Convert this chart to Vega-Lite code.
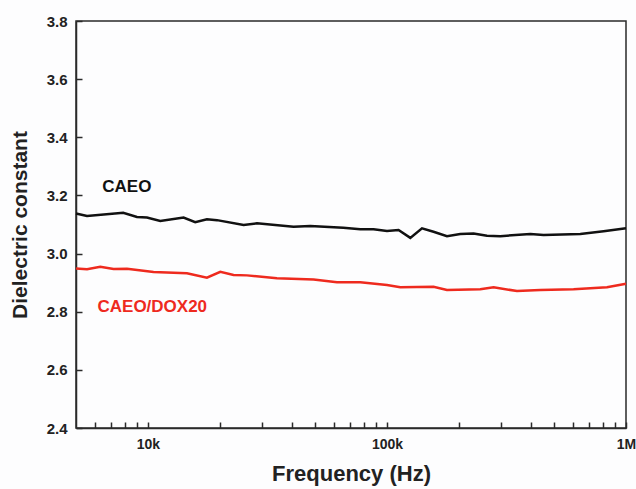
{
  "$schema": "https://vega.github.io/schema/vega-lite/v6.json",
  "width": 550,
  "height": 407,
  "autosize": "none",
  "padding": {"left": 76, "top": 21, "right": 10, "bottom": 61},
  "background": "#fdfdfe",
  "config": {
    "view": {"stroke": "#2a2a2a", "strokeWidth": 1.5},
    "font": "Liberation Sans",
    "axis": {"grid": false}
  },
  "datasets": {
    "curves": [
      {"series": "CAEO", "freq": 5000, "eps": 3.138},
      {"series": "CAEO", "freq": 5560, "eps": 3.129},
      {"series": "CAEO", "freq": 7880, "eps": 3.140},
      {"series": "CAEO", "freq": 8995, "eps": 3.126},
      {"series": "CAEO", "freq": 9900, "eps": 3.124},
      {"series": "CAEO", "freq": 11260, "eps": 3.112},
      {"series": "CAEO", "freq": 14090, "eps": 3.124},
      {"series": "CAEO", "freq": 15770, "eps": 3.108},
      {"series": "CAEO", "freq": 17650, "eps": 3.118},
      {"series": "CAEO", "freq": 19450, "eps": 3.115},
      {"series": "CAEO", "freq": 25130, "eps": 3.098},
      {"series": "CAEO", "freq": 28580, "eps": 3.104},
      {"series": "CAEO", "freq": 40650, "eps": 3.092},
      {"series": "CAEO", "freq": 47760, "eps": 3.095},
      {"series": "CAEO", "freq": 65640, "eps": 3.089},
      {"series": "CAEO", "freq": 77300, "eps": 3.084},
      {"series": "CAEO", "freq": 87900, "eps": 3.084},
      {"series": "CAEO", "freq": 100000, "eps": 3.078},
      {"series": "CAEO", "freq": 111800, "eps": 3.081},
      {"series": "CAEO", "freq": 125200, "eps": 3.054},
      {"series": "CAEO", "freq": 140100, "eps": 3.087},
      {"series": "CAEO", "freq": 156600, "eps": 3.075},
      {"series": "CAEO", "freq": 178200, "eps": 3.060},
      {"series": "CAEO", "freq": 202600, "eps": 3.067},
      {"series": "CAEO", "freq": 230300, "eps": 3.069},
      {"series": "CAEO", "freq": 262000, "eps": 3.061},
      {"series": "CAEO", "freq": 297800, "eps": 3.060},
      {"series": "CAEO", "freq": 398000, "eps": 3.067},
      {"series": "CAEO", "freq": 452000, "eps": 3.064},
      {"series": "CAEO", "freq": 644000, "eps": 3.067},
      {"series": "CAEO", "freq": 806000, "eps": 3.077},
      {"series": "CAEO", "freq": 1000000, "eps": 3.087},
      {"series": "CAEO/DOX20", "freq": 5000, "eps": 2.949},
      {"series": "CAEO/DOX20", "freq": 5560, "eps": 2.946},
      {"series": "CAEO/DOX20", "freq": 6317, "eps": 2.955},
      {"series": "CAEO/DOX20", "freq": 7180, "eps": 2.947},
      {"series": "CAEO/DOX20", "freq": 8170, "eps": 2.948},
      {"series": "CAEO/DOX20", "freq": 10550, "eps": 2.937},
      {"series": "CAEO/DOX20", "freq": 14560, "eps": 2.932},
      {"series": "CAEO/DOX20", "freq": 17650, "eps": 2.917},
      {"series": "CAEO/DOX20", "freq": 20070, "eps": 2.937},
      {"series": "CAEO/DOX20", "freq": 22810, "eps": 2.926},
      {"series": "CAEO/DOX20", "freq": 25950, "eps": 2.925},
      {"series": "CAEO/DOX20", "freq": 34640, "eps": 2.915},
      {"series": "CAEO/DOX20", "freq": 49320, "eps": 2.911},
      {"series": "CAEO/DOX20", "freq": 61770, "eps": 2.901},
      {"series": "CAEO/DOX20", "freq": 77300, "eps": 2.901},
      {"series": "CAEO/DOX20", "freq": 100000, "eps": 2.892},
      {"series": "CAEO/DOX20", "freq": 113700, "eps": 2.884},
      {"series": "CAEO/DOX20", "freq": 156600, "eps": 2.886},
      {"series": "CAEO/DOX20", "freq": 178200, "eps": 2.875},
      {"series": "CAEO/DOX20", "freq": 245700, "eps": 2.877},
      {"series": "CAEO/DOX20", "freq": 279300, "eps": 2.884},
      {"series": "CAEO/DOX20", "freq": 349800, "eps": 2.871},
      {"series": "CAEO/DOX20", "freq": 437900, "eps": 2.875},
      {"series": "CAEO/DOX20", "freq": 603600, "eps": 2.877},
      {"series": "CAEO/DOX20", "freq": 832600, "eps": 2.884},
      {"series": "CAEO/DOX20", "freq": 1000000, "eps": 2.896}
    ],
    "labels": [
      {"series": "CAEO", "freq": 6440, "eps": 3.228, "label": "CAEO"},
      {"series": "CAEO/DOX20", "freq": 6150, "eps": 2.816, "label": "CAEO/DOX20"}
    ]
  },
  "layer": [
    {
      "data": {"name": "curves"},
      "mark": {"type": "line", "strokeWidth": 2.5, "interpolate": "linear"},
      "encoding": {
        "x": {
          "field": "freq", "type": "quantitative",
          "scale": {"type": "log", "domain": [5000, 1000000], "nice": false},
          "axis": {
            "title": "Frequency (Hz)",
            "values": [6000, 7000, 8000, 9000, 10000, 20000, 30000, 40000, 50000, 60000, 70000, 80000, 90000, 100000, 200000, 300000, 400000, 500000, 600000, 700000, 800000, 900000, 1000000],
            "labelExpr": "datum.value == 10000 ? '10k' : datum.value == 100000 ? '100k' : datum.value == 1000000 ? '1M' : ''",
            "tickSize": -6,
            "tickColor": "#2a2a2a",
            "tickWidth": 1.5,
            "domainColor": "#2a2a2a",
            "domainWidth": 1.5,
            "labelFont": "Liberation Sans",
            "labelFontWeight": "bold",
            "labelFontSize": 14,
            "labelColor": "#222222",
            "labelPadding": 15,
            "labelFlush": false,
            "titleFont": "Liberation Sans",
            "titleFontWeight": "bold",
            "titleFontSize": 22,
            "titleColor": "#222222",
            "titlePadding": 12
          }
        },
        "y": {
          "field": "eps", "type": "quantitative",
          "scale": {"domain": [2.4, 3.8], "nice": false, "zero": false},
          "axis": {
            "title": "Dielectric constant",
            "values": [2.4, 2.5, 2.6, 2.7, 2.8, 2.9, 3.0, 3.1, 3.2, 3.3, 3.4, 3.5, 3.6, 3.7, 3.8],
            "labelExpr": "round(datum.value * 10) % 2 == 0 ? format(datum.value, '.1f') : ''",
            "tickSize": -6,
            "tickColor": "#2a2a2a",
            "tickWidth": 1.5,
            "domainColor": "#2a2a2a",
            "domainWidth": 1.5,
            "labelFont": "Liberation Sans",
            "labelFontWeight": "bold",
            "labelFontSize": 15,
            "labelColor": "#222222",
            "labelPadding": 15,
            "titleFont": "Liberation Sans",
            "titleFontWeight": "bold",
            "titleFontSize": 21,
            "titleColor": "#222222",
            "titlePadding": 16
          }
        },
        "color": {
          "field": "series", "type": "nominal",
          "scale": {"domain": ["CAEO", "CAEO/DOX20"], "range": ["#111111", "#ee2a1e"]},
          "legend": null
        }
      }
    },
    {
      "mark": {"type": "rule", "color": "#3a5bc7", "strokeWidth": 1.2, "strokeDash": [5, 3]},
      "encoding": {"x": {"datum": 100000}}
    },
    {
      "data": {"name": "labels"},
      "mark": {"type": "text", "align": "left", "baseline": "middle", "font": "Liberation Sans", "fontWeight": "bold", "fontSize": 17},
      "encoding": {
        "x": {"field": "freq", "type": "quantitative"},
        "y": {"field": "eps", "type": "quantitative"},
        "text": {"field": "label"},
        "color": {"field": "series", "type": "nominal", "legend": null}
      }
    }
  ]
}
